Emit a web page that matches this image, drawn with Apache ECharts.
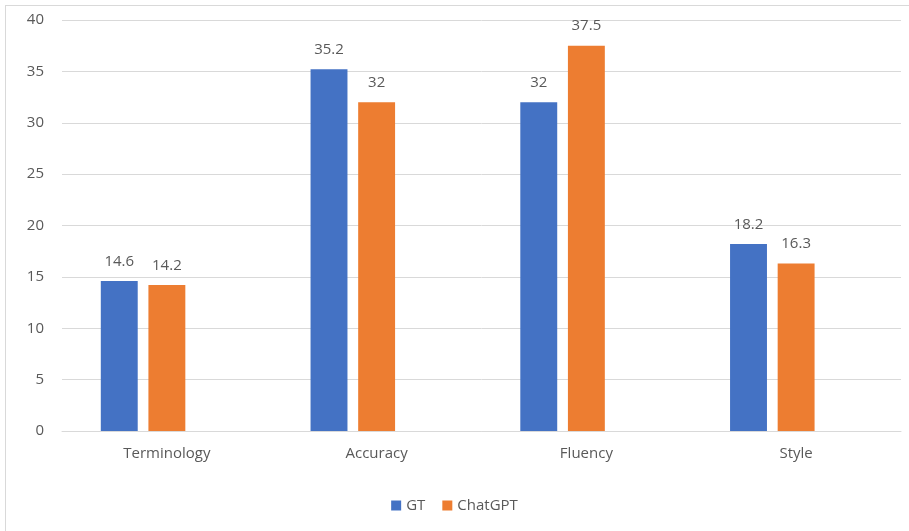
<!DOCTYPE html>
<html>
<head>
<meta charset="utf-8">
<script src="https://cdn.jsdelivr.net/npm/echarts@6/dist/echarts.min.js"></script>
<style>
html,body{margin:0;padding:0;background:#fff;}
#frame{position:absolute;left:5px;top:5px;width:904px;height:526px;border-left:1px solid #d9d9d9;border-top:1px solid #d9d9d9;box-sizing:border-box;}
#chart{position:absolute;left:0;top:0;width:909px;height:531px;}
</style>
</head>
<body>
<div id="frame"></div>
<div id="chart"></div>
<script>
const categories = ['Terminology', 'Accuracy', 'Fluency', 'Style'];
const gtValues = [14.6, 35.2, 32, 18.2];
const chatgptValues = [14.2, 32, 37.5, 16.3];
const emptySeries = [null, null, null, null];
const yTicks = { min: 0, max: 40, interval: 5 };

const textColor = '#595959';
const font = 'Open Sans';
const chart = echarts.init(document.getElementById('chart'), null, { renderer: 'canvas' });
const labelCfg = { show: true, position: 'top', distance: 12, color: textColor, fontSize: 15, fontFamily: font };
chart.setOption({
  animation: false,
  grid: { left: 62, right: 8, top: 20, bottom: 100 },
  legend: {
    data: ['GT', 'ChatGPT'],
    bottom: 13,
    left: 'center',
    itemWidth: 10, itemHeight: 10, itemGap: 17,
    icon: 'rect',
    textStyle: { color: textColor, fontSize: 15, fontFamily: font }
  },
  xAxis: {
    type: 'category',
    data: categories,
    axisLine: { lineStyle: { color: '#d9d9d9', width: 1 } },
    axisTick: { show: false },
    axisLabel: { color: textColor, fontSize: 15, fontFamily: font, margin: 15 }
  },
  yAxis: {
    type: 'value',
    min: yTicks.min, max: yTicks.max, interval: yTicks.interval,
    axisLine: { show: false },
    axisTick: { show: false },
    axisLabel: { color: textColor, fontSize: 15, fontFamily: font, margin: 18 },
    splitLine: { lineStyle: { color: '#d9d9d9', width: 1 } }
  },
  series: [
    { name: 'GT', type: 'bar', data: gtValues, itemStyle: { color: '#4472C4' },
      barGap: '29%', barCategoryGap: '37%', label: labelCfg },
    { name: 'ChatGPT', type: 'bar', data: chatgptValues, itemStyle: { color: '#ED7D31' },
      barGap: '29%', barCategoryGap: '37%', label: labelCfg },
    { name: 'hidden', type: 'bar', data: emptySeries, barGap: '29%', barCategoryGap: '37%' }
  ]
});
</script>
</body>
</html>
